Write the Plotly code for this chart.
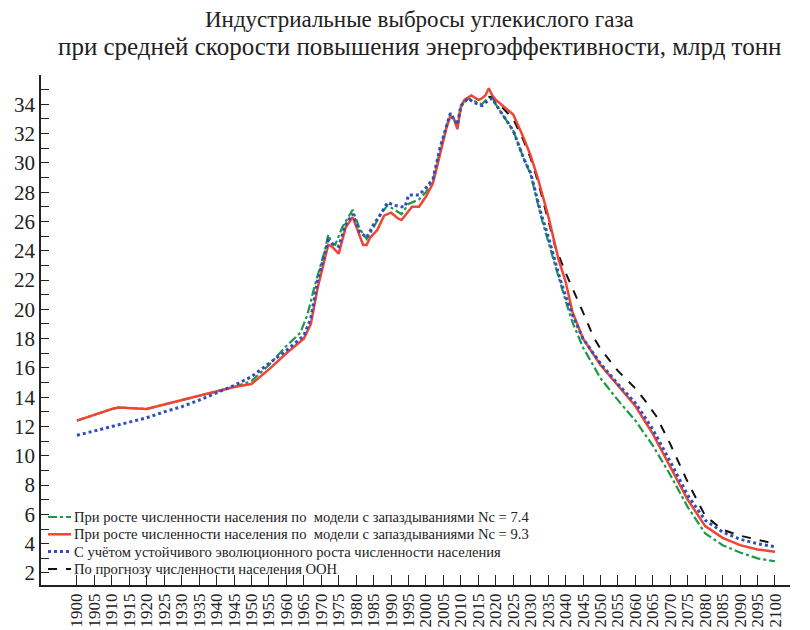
import plotly.graph_objects as go

# ---------------- data ----------------
years_red = [1900, 1905, 1910, 1912, 1920, 1925, 1930, 1935, 1940, 1945, 1950, 1955, 1960, 1965, 1967, 1969,
             1972, 1973, 1975, 1977, 1979, 1981, 1982, 1983, 1984, 1986, 1988, 1990, 1992, 1993, 1995, 1996,
             1998, 2000, 2002, 2004, 2006, 2007, 2008, 2009, 2010, 2011, 2013, 2015, 2016, 2017, 2018, 2019,
             2020, 2022, 2025, 2028, 2030, 2032, 2035, 2038, 2040, 2042, 2045, 2050, 2055, 2060, 2065, 2070,
             2075, 2080, 2085, 2090, 2095, 2100]
red_vals = [12.4, 12.8, 13.2, 13.3, 13.2, 13.5, 13.8, 14.1, 14.4, 14.7, 14.9, 15.9, 17.0, 18.0, 19.0, 21.5,
            24.4, 24.3, 23.8, 25.6, 26.3, 25.0, 24.4, 24.4, 24.9, 25.4, 26.4, 26.6, 26.2, 26.1, 26.7, 27.0,
            27.0, 27.7, 28.6, 30.5, 32.5, 33.2, 33.0, 32.3, 33.8, 34.3, 34.6, 34.3, 34.4, 34.6, 35.1, 34.6,
            34.3, 33.9, 33.3, 31.7, 30.5, 29.0, 26.4, 23.4, 21.9, 19.8, 18.0, 16.2, 14.8, 13.4, 11.5, 9.3,
            7.0, 5.2, 4.4, 3.9, 3.6, 3.45]

years_blue = [1900, 1910, 1920, 1925, 1930, 1935, 1940, 1945, 1950, 1955, 1960, 1965, 1967, 1969, 1972, 1973,
              1975, 1977, 1979, 1981, 1983, 1985, 1987, 1989, 1991, 1993, 1994, 1995, 1998, 2000, 2002, 2004,
              2006, 2007, 2008, 2009, 2010, 2012, 2014, 2016, 2018, 2019, 2020, 2022, 2025, 2028, 2030, 2033,
              2035, 2038, 2040, 2042, 2045, 2050, 2055, 2060, 2065, 2070, 2075, 2080, 2085, 2090, 2095, 2100]
blue_vals = [11.4, 12.0, 12.6, 13.0, 13.35, 13.8, 14.3, 14.8, 15.4, 16.3, 17.2, 18.2, 19.4, 22.0, 24.7, 24.5,
             24.3, 25.8, 26.5, 25.3, 24.9, 25.8, 26.5, 27.3, 27.1, 27.0, 27.0, 27.8, 27.8, 28.3, 28.9, 31.0,
             32.7, 33.4, 33.0, 32.6, 33.9, 34.4, 34.1, 33.9, 34.3, 34.4, 34.0, 33.3, 32.2, 30.3, 29.3, 26.5,
             25.0, 22.4, 20.9, 19.6, 18.0, 16.3, 14.9, 13.6, 11.8, 9.6, 7.3, 5.6, 4.8, 4.3, 4.0, 3.8]

years_green = [1900, 1905, 1910, 1912, 1920, 1925, 1930, 1935, 1940, 1945, 1950, 1955, 1960, 1964, 1966, 1968,
               1971, 1972, 1973, 1974, 1976, 1979, 1981, 1983, 1985, 1987, 1989, 1991, 1993, 1995, 1998, 2000,
               2002, 2004, 2006, 2007, 2008, 2009, 2010, 2012, 2014, 2016, 2018, 2019, 2020, 2022, 2025, 2028,
               2030, 2033, 2035, 2038, 2040, 2042, 2045, 2050, 2055, 2060, 2065, 2070, 2075, 2080, 2085, 2090,
               2095, 2100]
green_vals = [12.4, 12.8, 13.2, 13.3, 13.2, 13.5, 13.8, 14.1, 14.4, 14.7, 15.1, 16.2, 17.5, 18.4, 19.6, 21.5,
              24.0, 25.1, 24.5, 24.4, 25.6, 26.8, 25.5, 24.8, 25.6, 26.5, 27.1, 26.8, 26.5, 27.2, 27.5, 28.0,
              28.8, 30.8, 32.6, 33.3, 33.0, 32.5, 33.9, 34.4, 34.2, 34.0, 34.5, 34.4, 34.0, 33.3, 32.2, 30.3,
              29.2, 26.3, 24.6, 22.2, 20.6, 19.1, 17.4, 15.3, 13.8, 12.4, 10.7, 8.7, 6.5, 4.7, 3.9, 3.4,
              3.0, 2.8]

years_black = [2018, 2019, 2021, 2025, 2028, 2030, 2032, 2035, 2037, 2040, 2043, 2045, 2048, 2050, 2055, 2060,
               2063, 2066, 2070, 2075, 2080, 2085, 2090, 2095, 2100]
black_vals = [34.5, 34.5, 34.0, 33.0, 31.5, 30.3, 28.8, 26.0, 24.3, 22.5, 20.9, 19.8, 18.1, 17.3, 15.8, 14.6,
              13.7, 12.7, 10.8, 8.2, 5.9, 4.95, 4.55, 4.25, 4.0]

names = [
    "При росте численности населения по  модели с запаздываниями Nc = 7.4",
    "При росте численности населения по  модели с запаздываниями Nc = 9.3",
    "С учётом устойчивого эволюционного роста численности населения",
    "По прогнозу численности населения ООН",
]
title_lines = ["Индустриальные выбросы углекислого газа",
               "при средней скорости повышения энергоэффективности, млрд тонн"]
x_ticks = list(range(1900, 2101, 5))
y_ticks = list(range(2, 35, 2))

# ---------------- figure ----------------
FONT = "Liberation Serif"
L, R, T, B = 41, 20, 75, 45
W, H = 810, 630
PW, PH = W - L - R, H - T - B


def px_to_paper_x(px):
    return (px - L) / PW


def px_to_paper_y(py):
    return (H - B - py) / PH


styles = [
    dict(color="#1a9a48", width=2.2, dash="dashdot"),
    dict(color="#f04434", width=2.5, dash="solid"),
    dict(color="#2d4fbf", width=3, dash="dot"),
    dict(color="#111111", width=2, dash="dash"),
]

fig = go.Figure()
fig.add_trace(go.Scatter(x=years_green, y=green_vals, mode="lines", name=names[0], line=styles[0]))
fig.add_trace(go.Scatter(x=years_black, y=black_vals, mode="lines", name=names[3], line=styles[3]))
fig.add_trace(go.Scatter(x=years_red, y=red_vals, mode="lines", name=names[1], line=styles[1]))
fig.add_trace(go.Scatter(x=years_blue, y=blue_vals, mode="lines", name=names[2], line=styles[2]))

annotations = []
shapes = []
# title
for txt, py, fs in zip(title_lines, [20, 47], [23, 25]):
    annotations.append(dict(text=txt, xref="paper", yref="paper", x=px_to_paper_x(420), y=px_to_paper_y(py),
                            xanchor="center", yanchor="middle", showarrow=False,
                            font=dict(family=FONT, size=fs, color="#222222")))
# legend (drawn manually for compact row spacing)
for i, (nm, st) in enumerate(zip(names, styles)):
    py = 517 + 17.3 * i
    shapes.append(dict(type="line", xref="paper", yref="paper",
                       x0=px_to_paper_x(48), x1=px_to_paper_x(71), y0=px_to_paper_y(py), y1=px_to_paper_y(py),
                       line=dict(color=st["color"], width=st["width"], dash=st["dash"])))
    annotations.append(dict(text=nm, xref="paper", yref="paper", x=px_to_paper_x(72), y=px_to_paper_y(py),
                            xanchor="left", yanchor="middle", showarrow=False,
                            font=dict(family=FONT, size=14.6, color="#222222")))

fig.update_layout(
    width=W, height=H,
    paper_bgcolor="white", plot_bgcolor="white",
    margin=dict(l=L, r=R, t=T, b=B, autoexpand=False),
    font=dict(family=FONT, color="#222222"),
    showlegend=False,
    annotations=annotations,
    shapes=shapes,
)
fig.update_xaxes(range=[1889.7, 2104.3], tickvals=x_ticks, ticktext=[str(v) for v in x_ticks],
                 tickangle=-90, ticks="inside", ticklen=10, tickcolor="#222", tickwidth=1,
                 showline=True, linecolor="#222", linewidth=1.5, showgrid=False, zeroline=False,
                 automargin=False, tickfont=dict(family=FONT, size=17, color="#222"))
fig.update_yaxes(range=[1.18, 36.0], tickvals=y_ticks, ticks="inside", ticklen=8, tickcolor="#222",
                 tickwidth=1.2, showline=True, linecolor="#222", linewidth=1.5, showgrid=False,
                 zeroline=False, automargin=False, tickfont=dict(family=FONT, size=21, color="#222"),
                 minor=dict(dtick=1, tick0=0, ticks="inside", ticklen=8, tickcolor="#222", tickwidth=1.2,
                            showgrid=False))

fig.write_html("out.html", config={"displayModeBar": False},
               post_script="document.body.style.margin='0';")
